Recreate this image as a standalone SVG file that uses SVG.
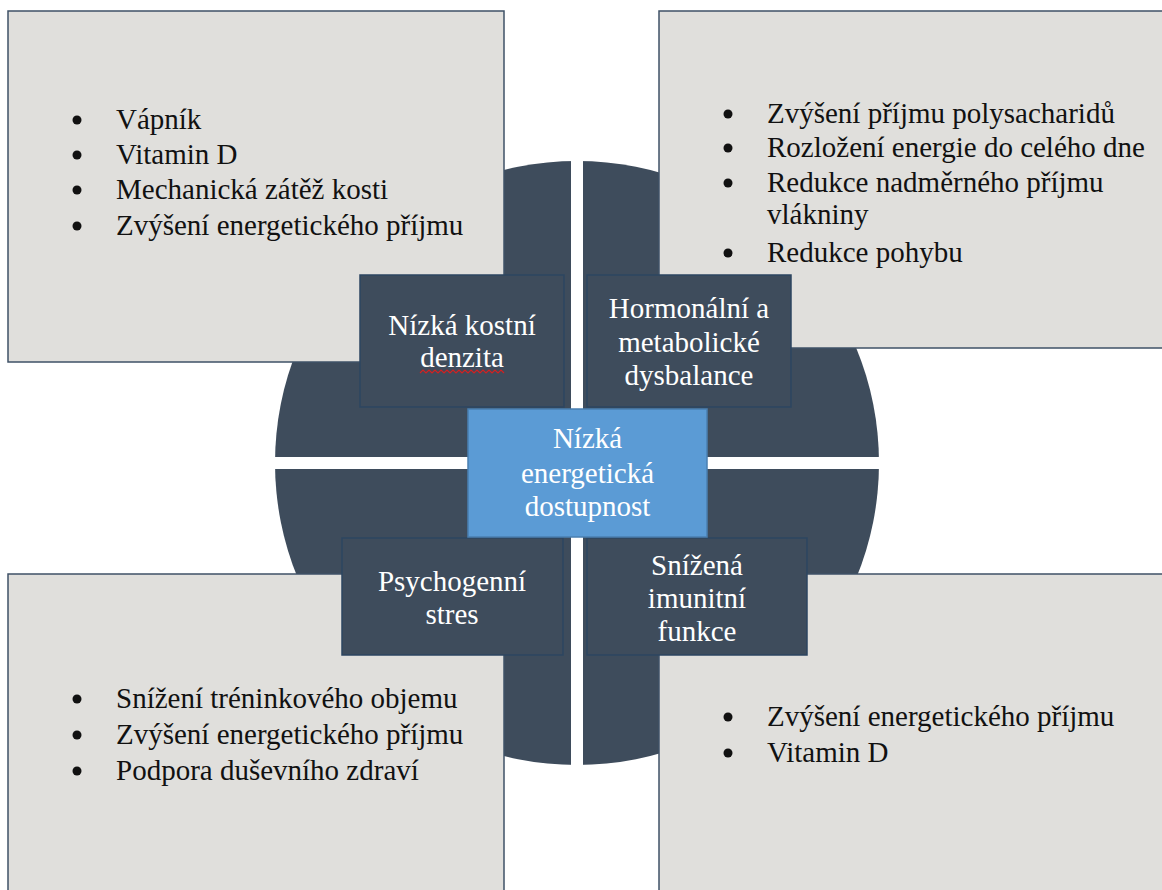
<svg xmlns="http://www.w3.org/2000/svg" width="1162" height="890" viewBox="0 0 1162 890">
<style>
.quad{fill:#3e4c5c}
.gbox{fill:#e0dfdc;stroke:#3f5267;stroke-width:1.5}
.dbox{fill:#3e4c5c;stroke:#2c4560;stroke-width:1.5}
.cbox{fill:#5b9bd5;stroke:#4a7fb0;stroke-width:1.5}
.t{font-family:"Liberation Serif","Times New Roman",serif;font-size:29px;fill:#111}
.w{font-family:"Liberation Serif","Times New Roman",serif;font-size:29px;fill:#ffffff;text-anchor:middle}
.b{fill:#111}
</style>
<defs>
<clipPath id="circ"><circle cx="577" cy="463" r="302"/></clipPath>
</defs>
<rect width="1162" height="890" fill="#ffffff"/>
<g id="circle" clip-path="url(#circ)">
<rect class="quad" x="270" y="155" width="301" height="302"/>
<rect class="quad" x="583" y="155" width="302" height="302"/>
<rect class="quad" x="270" y="469" width="301" height="302"/>
<rect class="quad" x="583" y="469" width="302" height="302"/>
</g>
<g id="box-top-left">
<rect class="gbox" x="8" y="11" width="496" height="351"/>
<circle class="b" cx="77" cy="120" r="4.5"/>
<circle class="b" cx="77" cy="155" r="4.5"/>
<circle class="b" cx="77" cy="190" r="4.5"/>
<circle class="b" cx="77" cy="226" r="4.5"/>
<text class="t" x="116" y="129">Vápník</text>
<text class="t" x="116" y="164">Vitamin D</text>
<text class="t" x="116" y="199">Mechanická zátěž kosti</text>
<text class="t" x="116" y="235">Zvýšení energetického příjmu</text>
</g>
<g id="box-top-right">
<rect class="gbox" x="659" y="11" width="520" height="337"/>
<circle class="b" cx="728" cy="114" r="4.5"/>
<circle class="b" cx="728" cy="148" r="4.5"/>
<circle class="b" cx="728" cy="183" r="4.5"/>
<circle class="b" cx="728" cy="253" r="4.5"/>
<text class="t" x="767" y="123">Zvýšení příjmu polysacharidů</text>
<text class="t" x="767" y="157">Rozložení energie do celého dne</text>
<text class="t" x="767" y="192">Redukce nadměrného příjmu</text>
<text class="t" x="767" y="224">vlákniny</text>
<text class="t" x="767" y="262">Redukce pohybu</text>
</g>
<g id="box-bottom-left">
<rect class="gbox" x="8" y="574" width="496" height="330"/>
<circle class="b" cx="77" cy="699" r="4.5"/>
<circle class="b" cx="77" cy="735" r="4.5"/>
<circle class="b" cx="77" cy="771" r="4.5"/>
<text class="t" x="116" y="708">Snížení tréninkového objemu</text>
<text class="t" x="116" y="744">Zvýšení energetického příjmu</text>
<text class="t" x="116" y="780">Podpora duševního zdraví</text>
</g>
<g id="box-bottom-right">
<rect class="gbox" x="659" y="574" width="520" height="330"/>
<circle class="b" cx="728" cy="717" r="4.5"/>
<circle class="b" cx="728" cy="753" r="4.5"/>
<text class="t" x="767" y="726">Zvýšení energetického příjmu</text>
<text class="t" x="767" y="762">Vitamin D</text>
</g>
<g id="node-bone">
<rect class="dbox" x="360" y="275" width="204" height="132"/>
<text class="w" x="462" y="335">Nízká kostní</text>
<text class="w" x="462" y="367">denzita</text>
<path d="M420,373 l3,-3 l3,3 l3,-3 l3,3 l3,-3 l3,3 l3,-3 l3,3 l3,-3 l3,3 l3,-3 l3,3 l3,-3 l3,3 l3,-3 l3,3 l3,-3 l3,3 l3,-3 l3,3 l3,-3 l3,3 l3,-3 l3,3 l3,-3 l3,3 l3,-3 l3,3" fill="none" stroke="#d42020" stroke-width="1.2"/>
</g>
<g id="node-hormonal">
<rect class="dbox" x="587" y="275" width="204" height="132"/>
<text class="w" x="689" y="318">Hormonální a</text>
<text class="w" x="689" y="352">metabolické</text>
<text class="w" x="689" y="385">dysbalance</text>
</g>
<g id="node-psycho">
<rect class="dbox" x="342" y="538" width="221" height="117"/>
<text class="w" x="452" y="591">Psychogenní</text>
<text class="w" x="452" y="624">stres</text>
</g>
<g id="node-immune">
<rect class="dbox" x="587" y="538" width="220" height="117"/>
<text class="w" x="697" y="575">Snížená</text>
<text class="w" x="697" y="608">imunitní</text>
<text class="w" x="697" y="641">funkce</text>
</g>
<g id="node-center">
<rect class="cbox" x="468" y="409" width="239" height="128"/>
<text class="w" x="587.5" y="448">Nízká</text>
<text class="w" x="587.5" y="483">energetická</text>
<text class="w" x="587.5" y="516">dostupnost</text>
</g>
<g id="connectors"/>
</svg>
